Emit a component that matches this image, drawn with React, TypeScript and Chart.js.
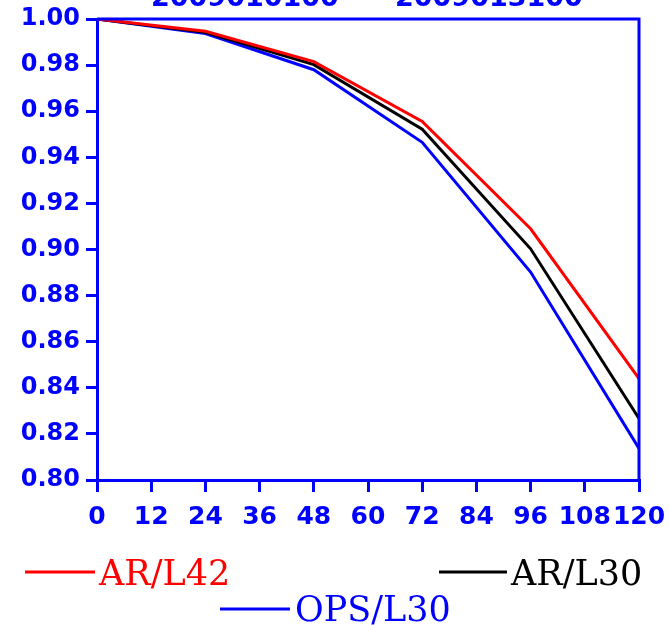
import React, { useEffect, useRef } from "react";
import { Chart, registerables } from "chart.js";

Chart.register(...registerables);

const hours = [0, 24, 48, 72, 96, 120];
const arL42 = [1.0, 0.9947, 0.9815, 0.9556, 0.909, 0.844];
const arL30 = [1.0, 0.9942, 0.9802, 0.9522, 0.9003, 0.8267];
const opsL30 = [1.0, 0.9937, 0.978, 0.9465, 0.8902, 0.8137];
const seriesLabels = ["AR/L42", "AR/L30", "OPS/L30"];
const seriesColors = ["#ff0000", "#000000", "#0000ff"];
const titleParts = ["2009010100", "2009013100"];
const xTicks = [0, 12, 24, 36, 48, 60, 72, 84, 96, 108, 120];

const AXIS = "#0000ff";
const TICK_FONT = "'DejaVu Sans'";
const LEGEND_FONT = "'DejaVu Serif'";

const framePlugin = {
  id: "frame",
  afterDraw(chart: any) {
    const { ctx, chartArea } = chart;
    ctx.save();
    ctx.strokeStyle = AXIS;
    ctx.lineWidth = 3;
    ctx.beginPath();
    ctx.moveTo(chartArea.left, chartArea.top);
    ctx.lineTo(chartArea.right, chartArea.top);
    ctx.lineTo(chartArea.right, chartArea.bottom);
    ctx.stroke();
    // title (partly above the page)
    ctx.fillStyle = AXIS;
    ctx.font = `bold 27px ${TICK_FONT}`;
    ctx.textBaseline = "alphabetic";
    ctx.textAlign = "left";
    ctx.fillText(titleParts[0], 151, 6);
    ctx.fillText(titleParts[1], 395, 6);
    // legend
    const ds = chart.data.datasets;
    const spots = [
      { x1: 25, x2: 95, y: 572, tx: 99, ty: 585 },
      { x1: 439, x2: 507, y: 572, tx: 511, ty: 585 },
      { x1: 220, x2: 290, y: 609, tx: 295, ty: 621 },
    ];
    ctx.font = `35px ${LEGEND_FONT}`;
    ds.forEach((d: any, i: number) => {
      const s = spots[i];
      ctx.strokeStyle = d.borderColor;
      ctx.lineWidth = 3;
      ctx.beginPath();
      ctx.moveTo(s.x1, s.y);
      ctx.lineTo(s.x2, s.y);
      ctx.stroke();
      ctx.fillStyle = d.borderColor;
      ctx.fillText(d.label, s.tx, s.ty);
    });
    ctx.restore();
  },
};

export default function App() {
  const ref = useRef<HTMLCanvasElement>(null);
  useEffect(() => {
    if (!ref.current) return;
    const series = [arL42, arL30, opsL30];
    const chart = new Chart(ref.current, {
      type: "line",
      data: {
        datasets: series.map((vals, i) => ({
          label: seriesLabels[i],
          data: hours.map((h, j) => ({ x: h, y: vals[j] })),
          borderColor: seriesColors[i],
          backgroundColor: seriesColors[i],
          borderWidth: 3,
          pointRadius: 0,
          tension: 0,
          fill: false,
        })),
      },
      options: {
        animation: false,
        responsive: false,
        maintainAspectRatio: false,
        layout: { padding: { top: 19, right: 30, left: 0, bottom: 0 } },
        plugins: {
          legend: { display: false },
          tooltip: { enabled: false },
          title: { display: false },
        },
        scales: {
          x: {
            type: "linear",
            min: 0,
            max: 120,
            afterFit(scale: any) {
              scale.height = 145;
              scale.paddingLeft = 0;
              scale.paddingRight = 0;
            },
            afterBuildTicks(scale: any) {
              scale.ticks = xTicks.map((v) => ({ value: v }));
            },
            grid: {
              drawOnChartArea: false,
              drawTicks: true,
              tickLength: 12,
              color: AXIS,
              lineWidth: 3,
            },
            border: { display: true, color: AXIS, width: 3 },
            ticks: {
              color: AXIS,
              padding: 10,
              maxRotation: 0,
              autoSkip: false,
              font: { family: TICK_FONT, size: 25, weight: "bold" },
              callback: (v: any) => String(v),
            },
          },
          y: {
            type: "linear",
            min: 0.8,
            max: 1.0,
            afterFit(scale: any) {
              scale.width = 97;
              scale.paddingTop = 0;
              scale.paddingBottom = 0;
            },
            grid: {
              drawOnChartArea: false,
              drawTicks: true,
              tickLength: 11,
              color: AXIS,
              lineWidth: 3,
            },
            border: { display: true, color: AXIS, width: 3 },
            ticks: {
              color: AXIS,
              stepSize: 0.02,
              padding: 6,
              autoSkip: false,
              font: { family: TICK_FONT, size: 24, weight: "bold" },
              callback: (v: any) => Number(v).toFixed(2),
            },
          },
        },
      },
      plugins: [framePlugin],
    });
    return () => chart.destroy();
  }, []);
  return (
    <div style={{ position: "fixed", left: 0, top: 0, width: 669, height: 625, background: "#fff" }}>
      <canvas ref={ref} width={669} height={625} style={{ width: 669, height: 625 }} />
    </div>
  );
}
